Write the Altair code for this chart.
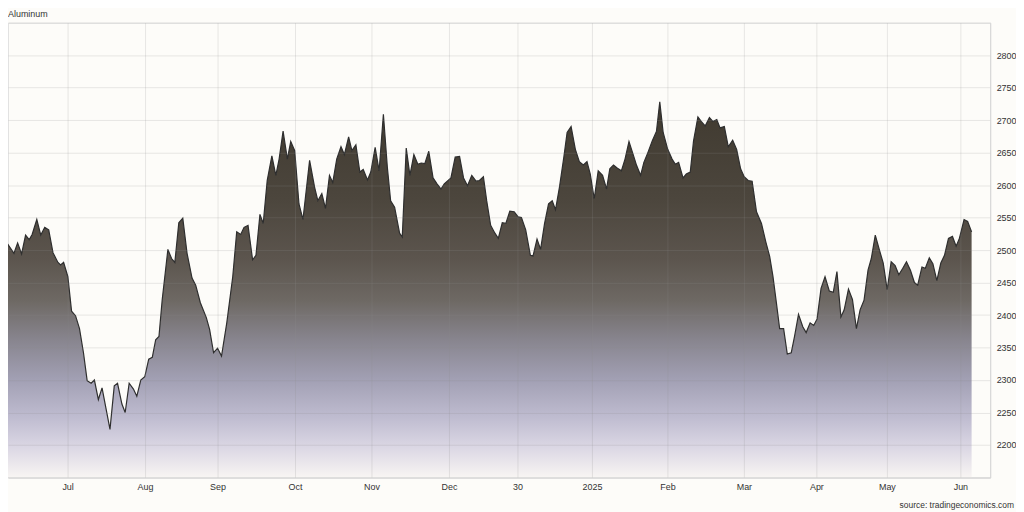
import altair as alt
import pandas as pd

chart_title = "Aluminum"
source_note = "source: tradingeconomics.com"

# horizontal reading position along the timeline, and the price read at it
t_pos = [3, 14, 17.7, 21.7, 25.7, 29.3, 32.3, 37, 41, 45, 49, 53.3, 58.3, 61, 64, 68.3, 72, 76, 80, 84,
         87.7, 91.7, 95, 99, 102.7, 106.7, 110.7, 115, 118.3, 122.7, 126, 130, 134.3, 137.7, 141.7, 145.7,
         149.7, 153.3, 156.7, 160, 163.3, 169, 172.7, 176, 180, 184, 188.3, 193.3, 197, 201.7, 207.7, 211,
         215, 219, 223, 228.3, 234.3, 238.3, 242.3, 245.7, 249.7, 254.3, 257.7, 261.7, 265, 269, 273.7,
         277.7, 281, 285, 289.3, 292.7, 296.7, 301, 305, 308.3, 311.7, 316.7, 320, 324, 327.7, 331.7, 335,
         339, 343.3, 346.7, 351, 354.3, 358.3, 362.3, 365.7, 370, 373.3, 377.7, 381.7, 386, 390, 393.3,
         397.3, 402.3, 405, 409, 412.7, 416.7, 420.7, 424, 427.7, 431.7, 436, 440, 444, 447.3, 454, 458.3,
         462.7, 466.7, 470.7, 475, 479.3, 482.7, 486.7, 490, 494, 498.3, 501.7, 505.7, 509.3, 513.3, 517.7,
         521.7, 525, 529.3, 534, 536.7, 540.7, 544.3, 548.3, 552.3, 556, 559.3, 563.3, 567.7, 571, 575,
         579.3, 583.3, 587.3, 591, 594.3, 598.3, 602.3, 606.7, 610.7, 614, 617.7, 621.7, 625.7, 629.3,
         633.3, 637.3, 641, 645, 648.3, 652.3, 656.7, 661, 664.3, 667.7, 672.3, 676.7, 680, 683.3, 687.7,
         691, 695, 698.3, 702.7, 706, 710, 714.3, 717.7, 721.7, 725, 729.3, 733.3, 737.7, 741.7, 745.7,
         749.3, 753.3, 757.3, 761.7, 766.7, 771, 775, 778.3, 781.7, 785, 789, 792.7, 796.7, 800, 804,
         808.3, 811.7, 815.7, 819.3, 822.7, 826.7, 830.7, 835, 839, 842.7, 846.7, 850, 854.3, 858.3,
         862.3, 866, 870, 874, 877.3, 881.3, 885.3, 889.3, 893.3, 897.3, 901.3, 905, 909, 912.7, 916.7,
         920.7, 924, 928.3, 931.7, 935.7, 939.3, 943.3, 947.3, 951, 955, 959, 962.7, 966, 970.7, 974.3,
         978.3]
price = [2520, 2495, 2511, 2494, 2523, 2516, 2524, 2547, 2523, 2535, 2531, 2496, 2481, 2477, 2481, 2459,
         2406, 2399, 2379, 2342, 2299, 2295, 2300, 2270, 2288, 2256, 2224, 2291, 2295, 2263, 2250, 2295,
         2286, 2275, 2300, 2305, 2332, 2335, 2362, 2367, 2424, 2501, 2487, 2481, 2542, 2549, 2495, 2457,
         2446, 2419, 2396, 2378, 2342, 2349, 2337, 2388, 2459, 2528, 2524, 2535, 2538, 2485, 2492, 2555,
         2541, 2607, 2645, 2615, 2640, 2683, 2640, 2667, 2653, 2571, 2547, 2592, 2638, 2597, 2576, 2587,
         2564, 2615, 2604, 2640, 2659, 2647, 2674, 2653, 2662, 2620, 2624, 2608, 2620, 2658, 2622, 2709,
         2627, 2576, 2566, 2526, 2520, 2657, 2615, 2647, 2632, 2634, 2633, 2652, 2611, 2602, 2594, 2602,
         2611, 2643, 2644, 2611, 2599, 2615, 2606, 2607, 2613, 2576, 2538, 2526, 2518, 2542, 2541, 2560,
         2559, 2551, 2550, 2531, 2492, 2491, 2517, 2501, 2541, 2571, 2576, 2562, 2597, 2643, 2681, 2690,
         2655, 2636, 2631, 2636, 2617, 2579, 2622, 2615, 2594, 2625, 2631, 2626, 2622, 2640, 2667, 2648,
         2630, 2615, 2635, 2650, 2668, 2683, 2728, 2681, 2655, 2640, 2632, 2635, 2611, 2617, 2620, 2668,
         2705, 2698, 2691, 2704, 2698, 2701, 2688, 2690, 2659, 2669, 2655, 2625, 2613, 2607, 2606, 2559,
         2541, 2513, 2490, 2459, 2419, 2379, 2379, 2340, 2342, 2367, 2401, 2382, 2373, 2388, 2384, 2394,
         2441, 2459, 2437, 2435, 2467, 2397, 2408, 2440, 2424, 2379, 2408, 2423, 2469, 2487, 2523, 2501,
         2480, 2439, 2482, 2476, 2462, 2472, 2482, 2469, 2450, 2446, 2474, 2472, 2488, 2479, 2453, 2480,
         2492, 2518, 2521, 2506, 2518, 2547, 2544, 2528]

tick_pos = [68, 146, 219, 297, 374, 452, 521, 596, 672, 749, 822, 893, 967]
tick_lbl = ["Jul", "Aug", "Sep", "Oct", "Nov", "Dec", "30", "2025", "Feb", "Mar", "Apr", "May", "Jun"]
y_grid = [2150, 2200, 2250, 2300, 2350, 2400, 2450, 2500, 2550, 2600, 2650, 2700, 2750, 2800, 2850]
y_domain = [2150, 2850]
x_domain = [8, 997]

FONT = "Liberation Sans, Arial, Helvetica, sans-serif"
FS = 9

df = pd.DataFrame({"t": t_pos, "price": price})

lbl_arr = "[" + ",".join("'" + s + "'" for s in tick_lbl) + "]"
pos_arr = "[" + ",".join(str(p) for p in tick_pos) + "]"
x_label_expr = f"{lbl_arr}[indexof({pos_arr}, datum.value)]"
y_label_expr = f"(datum.value == {y_domain[0]} || datum.value == {y_domain[1]}) ? '' : datum.label"

gradient = alt.Gradient(
    gradient="linear", x1=1, x2=1, y1=0, y2=1,
    stops=[
        alt.GradientStop(color="#403a30", offset=0.0),
        alt.GradientStop(color="#4c463d", offset=0.26),
        alt.GradientStop(color="#5c554e", offset=0.42),
        alt.GradientStop(color="#6e6964", offset=0.53),
        alt.GradientStop(color="#87848d", offset=0.63),
        alt.GradientStop(color="#a2a0b4", offset=0.74),
        alt.GradientStop(color="#bfbcd0", offset=0.84),
        alt.GradientStop(color="#dbd7e4", offset=0.92),
        alt.GradientStop(color="#f8f5f3", offset=1.0),
    ],
)

x_enc = alt.X(
    "t:Q",
    scale=alt.Scale(domain=x_domain, nice=False, zero=False),
    axis=alt.Axis(values=tick_pos, tickCount=40, labelExpr=x_label_expr, title=None, ticks=False,
                  grid=True, labelPadding=5, labelBaseline="top", labelOverlap=False, zindex=1),
)
y_enc = alt.Y(
    "price:Q",
    scale=alt.Scale(domain=y_domain, nice=False, zero=False),
    axis=alt.Axis(orient="right", values=y_grid, tickCount=40, format="d", labelExpr=y_label_expr,
                  title=None, ticks=False, grid=True, labelPadding=6, labelOverlap=False, zindex=1),
)

base = alt.Chart(df)
area = base.mark_area(color=gradient, clip=True).encode(x=x_enc, y=y_enc, y2=alt.datum(y_domain[0]))
line = base.mark_line(color="#2e2e2e", strokeWidth=1.2, clip=True).encode(x="t:Q", y="price:Q")

title_mark = alt.Chart(pd.DataFrame({"s": [chart_title]})).mark_text(
    align="left", baseline="alphabetic", font=FONT, fontSize=FS, color="#333333"
).encode(x=alt.value(0), y=alt.value(-6), text="s:N")

source_mark = alt.Chart(pd.DataFrame({"s": [source_note]})).mark_text(
    align="right", baseline="alphabetic", font=FONT, fontSize=8.5, color="#333333"
).encode(x=alt.value(1013), y=alt.value(489), text="s:N")

chart = (
    alt.layer(area, line, title_mark, source_mark)
    .properties(
        width=989, height=458,
        padding={"left": 0, "top": 13, "right": 26, "bottom": 33},
        autosize=alt.AutoSizeParams(type="none"),
        background="#fdfcf9",
    )
    .configure_view(stroke="#e2e2e2", strokeWidth=1)
    .configure_axis(
        labelFont=FONT, labelFontSize=FS, labelColor="#333333",
        gridColor="#8f8f8f", gridOpacity=0.2, gridWidth=1,
        domainColor="#d6d6d6", domainWidth=1,
    )
)

chart.save("out.html", embed_options={"renderer": "svg", "actions": False})
